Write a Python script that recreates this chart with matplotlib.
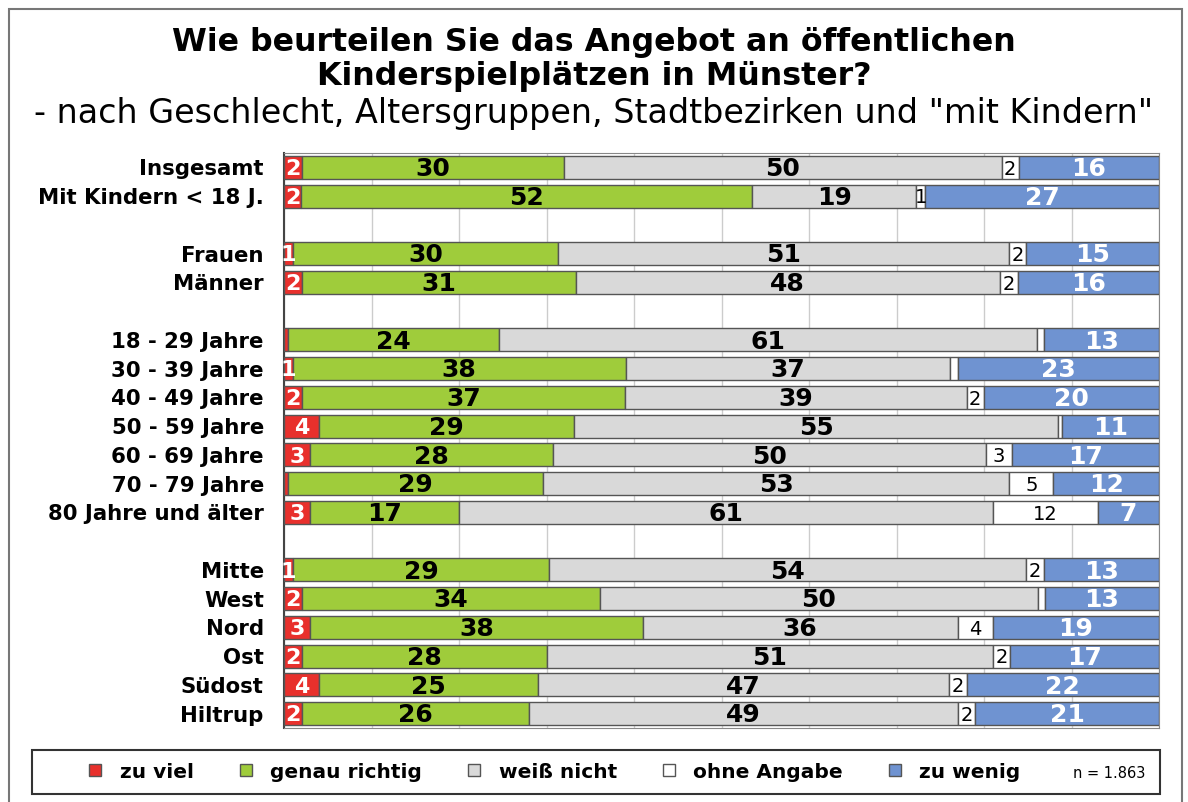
import matplotlib.pyplot as plt
import matplotlib.patches as mpatches
from matplotlib.lines import Line2D
import numpy as np

plt.rcParams['font.family'] = ['DejaVu Sans']

# Zeilen (None = Leerzeile)
kategorien = ['Insgesamt', 'Mit Kindern < 18 J.', None,
              'Frauen', 'Männer', None,
              '18 - 29 Jahre', '30 - 39 Jahre', '40 - 49 Jahre', '50 - 59 Jahre',
              '60 - 69 Jahre', '70 - 79 Jahre', '80 Jahre und älter', None,
              'Mitte', 'West', 'Nord', 'Ost', 'Südost', 'Hiltrup']

# Werte in %, Werte < 1 ohne Beschriftung (geschätzt)
zu_viel = [2, 2, None, 1, 2, None, 0.4, 1, 2, 4, 3, 0.4, 3, None, 1, 2, 3, 2, 4, 2]
genau_richtig = [30, 52, None, 30, 31, None, 24, 38, 37, 29, 28, 29, 17, None, 29, 34, 38, 28, 25, 26]
weiss_nicht = [50, 19, None, 51, 48, None, 61, 37, 39, 55, 50, 53, 61, None, 54, 50, 36, 51, 47, 49]
ohne_angabe = [2, 1, None, 2, 2, None, 0.9, 0.9, 2, 0.5, 3, 5, 12, None, 2, 0.8, 4, 2, 2, 2]
zu_wenig = [16, 27, None, 15, 16, None, 13, 23, 20, 11, 17, 12, 7, None, 13, 13, 19, 17, 22, 21]

serien = ['zu viel', 'genau richtig', 'weiß nicht', 'ohne Angabe', 'zu wenig']
farben = ['#e8302c', '#9fcc3b', '#d9d9d9', '#ffffff', '#6f93d1']
textfarben = ['white', 'black', 'black', 'black', 'white']
textgewicht = ['bold', 'bold', 'bold', 'normal', 'bold']
textgroesse = [16, 18, 18, 14, 18]

fig = plt.figure(figsize=(11.88, 8.02), dpi=100)
ax = fig.add_axes([284 / 1188, 1 - 728 / 802, 875 / 1188, 575 / 802])

daten = [zu_viel, genau_richtig, weiss_nicht, ohne_angabe, zu_wenig]
for i, name in enumerate(kategorien):
    if name is None:
        continue
    werte = np.array([d[i] for d in daten], dtype=float)
    anteile = werte / werte.sum() * 100
    links = 0
    for j, (w, a) in enumerate(zip(werte, anteile)):
        ax.barh(i, a, left=links, height=0.8, color=farben[j],
                edgecolor='#555555', linewidth=1, zorder=3)
        if w >= 1:
            ax.text(links + a / 2, i + 0.06, f'{w:.0f}', ha='center', va='center',
                    color=textfarben[j], fontweight=textgewicht[j],
                    fontsize=textgroesse[j], zorder=4)
        links += a

ax.set_xlim(0, 100)
ax.set_ylim(len(kategorien) - 0.5, -0.5)
ax.set_xticks(np.arange(0, 101, 10))
ax.xaxis.grid(True, color='#cccccc', linewidth=1, zorder=0)
ax.tick_params(left=False, bottom=False, labelbottom=False)
ax.set_yticks([i for i, k in enumerate(kategorien) if k is not None])
ax.set_yticklabels([k for k in kategorien if k is not None],
                   fontweight='bold', fontsize=15.3)
ax.tick_params(axis='y', pad=11)
for s in ax.spines.values():
    s.set_color('#888888')
ax.spines['left'].set_color('#444444')
ax.spines['left'].set_linewidth(1.5)

# Titel
fig.text(0.5, 1 - 42 / 802, 'Wie beurteilen Sie das Angebot an öffentlichen',
         ha='center', va='center', fontsize=22.8, fontweight='bold')
fig.text(0.5, 1 - 77 / 802, 'Kinderspielplätzen in Münster?',
         ha='center', va='center', fontsize=22.8, fontweight='bold')
fig.text(0.5, 1 - 114 / 802,
         '- nach Geschlecht, Altersgruppen, Stadtbezirken und "mit Kindern"',
         ha='center', va='center', fontsize=24)

# Rahmen
fig.patches.append(mpatches.Rectangle((9 / 1188, -0.05), 1173 / 1188, 1 - 9 / 802 + 0.05,
                                      transform=fig.transFigure, fill=False,
                                      edgecolor='#777777', linewidth=1.5))
fig.patches.append(mpatches.Rectangle((32 / 1188, 1 - 794 / 802), 1128 / 1188, 44 / 802,
                                      transform=fig.transFigure, fill=False,
                                      edgecolor='#333333', linewidth=1.5))

# Legende
handles = [Line2D([], [], marker='s', linestyle='none', markersize=8,
                  markerfacecolor=f, markeredgecolor='#555555') for f in farben]
fig.legend(handles, serien, ncol=5, loc='center', frameon=False,
           bbox_to_anchor=(548 / 1188, 1 - 772 / 802), prop={'weight': 'bold', 'size': 14.5},
           handletextpad=0.2, columnspacing=1.6)
fig.text(1145 / 1188, 1 - 774 / 802, 'n = 1.863', ha='right', va='center', fontsize=10.5)

fig.savefig('out.png', dpi=100)
